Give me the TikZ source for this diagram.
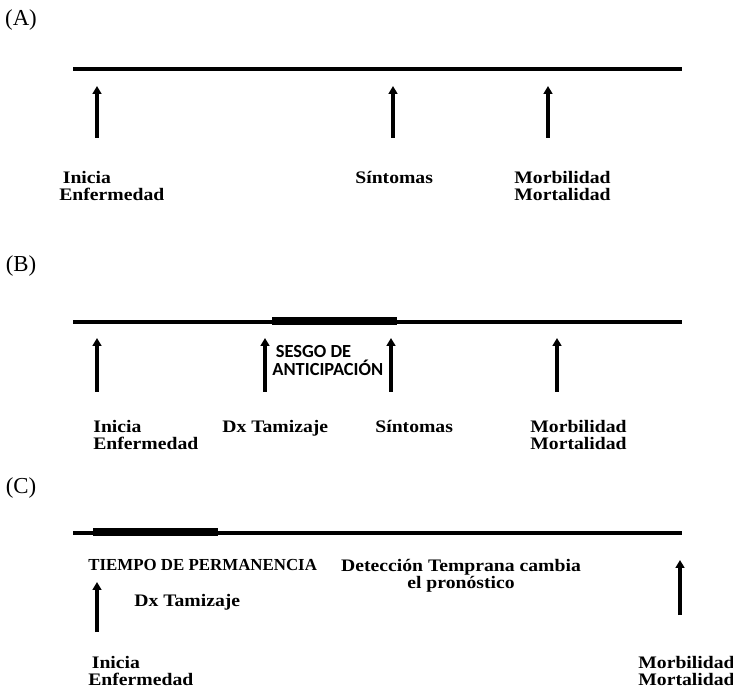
\documentclass[tikz,border=0pt]{standalone}
\usepackage{fontspec}
\setmainfont{Liberation Serif}
\newfontfamily\etiqfont[FakeStretch=1.12]{Liberation Serif}
\newfontfamily\sesgofont{Carlito}
\usetikzlibrary{arrows.meta}

\tikzset{
  linea/.style={line width=2.2pt},
  tramo/.style={line width=4.6pt},
  flecha/.style={line width=2.3pt,-{Triangle[width=5pt,length=4.5pt]}},
  etiqueta/.style={anchor=north west,inner sep=0pt,align=left,
    font=\etiqfont\fontsize{10}{9.7}\selectfont\bfseries},
  letra/.style={inner sep=0pt,font=\fontsize{13}{14}\selectfont}
}

\begin{document}
\begin{tikzpicture}[x=0.02cm,y=-0.02cm]
\useasboundingbox (0,0) rectangle (733,688);

% (A)
\node[letra] (tA) at (21,20) {(A)};
\coordinate (iniA) at (73,69); \coordinate (finA) at (682,69);
\draw[linea] (iniA) -- (finA);
\foreach \x [count=\i] in {97,393,548} {
  \coordinate (pA\i) at (\x,138); \coordinate (qA\i) at (\x,86);
  \draw[flecha] (pA\i) -- (qA\i);
}
\node[etiqueta] (iniciaA) at (59,171) {\hspace{2pt}Inicia\\Enfermedad};
\node[etiqueta] (sintA) at (355,171) {Síntomas};
\node[etiqueta] (morbA) at (514,171) {Morbilidad\\Mortalidad};

% (B)
\node[letra] (tB) at (21,266) {(B)};
\coordinate (iniB) at (73,322); \coordinate (finB) at (682,322);
\draw[linea] (iniB) -- (finB);
\coordinate (s1) at (272,321); \coordinate (s2) at (397,321);
\draw[tramo] (s1) -- (s2);
\foreach \x [count=\i] in {97,265,391,557} {
  \coordinate (pB\i) at (\x,392); \coordinate (qB\i) at (\x,338);
  \draw[flecha] (pB\i) -- (qB\i);
}
\node[anchor=north west,inner sep=0pt,align=left,
  font=\sesgofont\fontsize{10.5}{10}\selectfont\bfseries] (sesgo) at (272,345)
  {\hspace{2pt}SESGO DE\\ANTICIPACIÓN};
\node[etiqueta] (iniciaB) at (93,420) {Inicia\\Enfermedad};
\node[etiqueta] (dxB) at (222,420) {Dx Tamizaje};
\node[etiqueta] (sintB) at (375,420) {Síntomas};
\node[etiqueta] (morbB) at (530,420) {Morbilidad\\Mortalidad};

% (C)
\node[letra] (tC) at (21,488) {(C)};
\coordinate (iniC) at (73,533); \coordinate (finC) at (682,533);
\draw[linea] (iniC) -- (finC);
\coordinate (t1) at (93,532); \coordinate (t2) at (218,532);
\draw[tramo] (t1) -- (t2);
\node[etiqueta,font=\fontsize{9.6}{9.4}\selectfont\bfseries] (perm) at (88,559)
  {TIEMPO DE PERMANENCIA};
\node[etiqueta,anchor=north,align=center] (detec) at (461,559)
  {Detección Temprana cambia\\el pronóstico};
\coordinate (pC1) at (97,632); \coordinate (qC1) at (97,582);
\draw[flecha] (pC1) -- (qC1);
\coordinate (pC2) at (680,615); \coordinate (qC2) at (680,560);
\draw[flecha] (pC2) -- (qC2);
\node[etiqueta] (dxC) at (134,594) {Dx Tamizaje};
\node[etiqueta] (iniciaC) at (88,656) {\hspace{2pt}Inicia\\Enfermedad};
\node[etiqueta] (morbC) at (638,656) {Morbilidad\\Mortalidad};
\end{tikzpicture}
\end{document}
